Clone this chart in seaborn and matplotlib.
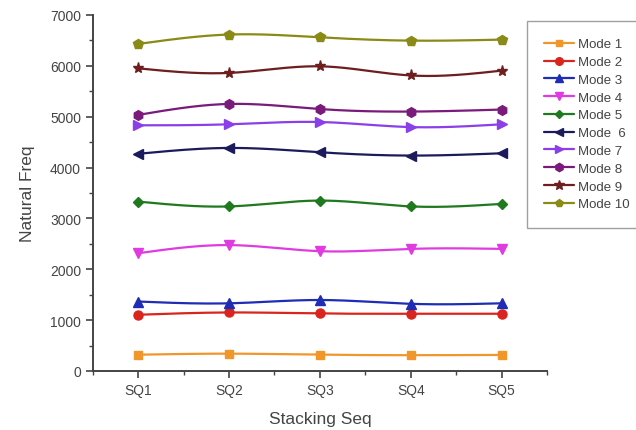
import numpy as np
import pandas as pd
import matplotlib
matplotlib.use("Agg")
import matplotlib.pyplot as plt
from matplotlib.lines import Line2D
from matplotlib.ticker import MultipleLocator
import seaborn as sns

categories = ["SQ1", "SQ2", "SQ3", "SQ4", "SQ5"]
modes = ["Mode 1", "Mode 2", "Mode 3", "Mode 4", "Mode 5",
         "Mode  6", "Mode 7", "Mode 8", "Mode 9", "Mode 10"]
mode1 = [320, 340, 320, 310, 315]
mode2 = [1105, 1150, 1130, 1125, 1125]
mode3 = [1365, 1330, 1395, 1320, 1330]
mode4 = [2315, 2475, 2355, 2400, 2400]
mode5 = [3330, 3235, 3350, 3235, 3285]
mode6 = [4270, 4385, 4300, 4235, 4280]
mode7 = [4830, 4850, 4895, 4795, 4850]
mode8 = [5035, 5250, 5150, 5100, 5140]
mode9 = [5950, 5860, 5990, 5810, 5905]
mode10 = [6430, 6615, 6560, 6495, 6515]
series = [mode1, mode2, mode3, mode4, mode5, mode6, mode7, mode8, mode9, mode10]

colors = ["#F0962A", "#D9251D", "#1F2DB5", "#E03BE0", "#1F7A1F",
          "#1B1B5C", "#8B3FE8", "#7A1A7A", "#6E1E1E", "#8A8A16"]
markers = ["s", "o", "^", "v", "D", "<", ">", "h", "*", "p"]
msizes = [6, 6.5, 7, 7, 5.5, 7, 7, 7, 8, 7]


def natural_spline(x, y, n=200):
    x = np.asarray(x, float)
    y = np.asarray(y, float)
    k = len(x)
    h = np.diff(x)
    A = np.zeros((k, k))
    b = np.zeros(k)
    A[0, 0] = A[-1, -1] = 1
    for i in range(1, k - 1):
        A[i, i - 1] = h[i - 1]
        A[i, i] = 2 * (h[i - 1] + h[i])
        A[i, i + 1] = h[i]
        b[i] = 6 * ((y[i + 1] - y[i]) / h[i] - (y[i] - y[i - 1]) / h[i - 1])
    M = np.linalg.solve(A, b)
    xs = np.linspace(x[0], x[-1], n)
    idx = np.clip(np.searchsorted(x, xs) - 1, 0, k - 2)
    x0, x1 = x[idx], x[idx + 1]
    hh = x1 - x0
    ys = (M[idx] * (x1 - xs) ** 3 / (6 * hh) + M[idx + 1] * (xs - x0) ** 3 / (6 * hh)
          + (y[idx] / hh - M[idx] * hh / 6) * (x1 - xs)
          + (y[idx + 1] / hh - M[idx + 1] * hh / 6) * (xs - x0))
    return xs, ys


sns.set_style("ticks")
plt.rcParams["font.family"] = ["Liberation Sans", "DejaVu Sans"]

fig = plt.figure(figsize=(6.36, 4.31), dpi=100)
ax = fig.add_axes([0.146, 0.137, 0.714, 0.826])

xpos = np.arange(1, len(categories) + 1)
handles = []
for name, vals, c, m, ms in zip(modes, series, colors, markers, msizes):
    xs, ys = natural_spline(xpos, vals)
    sns.lineplot(x=xs, y=ys, color=c, lw=1.6, ax=ax, sort=False)
    df = pd.DataFrame({"x": xpos, "y": vals})
    ax.plot(df["x"], df["y"], ls="none", marker=m, color=c, ms=ms, mec=c)
    handles.append(Line2D([], [], color=c, lw=1.6, marker=m, ms=ms - 1, mec=c))

ax.set_xlim(0.5, 5.5)
ax.set_ylim(0, 7000)
ax.set_xticks(xpos)
ax.set_xticklabels(categories)
ax.xaxis.set_minor_locator(MultipleLocator(0.5))
ax.yaxis.set_major_locator(MultipleLocator(1000))
ax.yaxis.set_minor_locator(MultipleLocator(500))
for s in ["top", "right"]:
    ax.spines[s].set_visible(False)
for s in ["left", "bottom"]:
    ax.spines[s].set_color("#444444")
    ax.spines[s].set_linewidth(1.4)
ax.tick_params(which="major", direction="out", length=5, width=1.2, color="#444444",
               labelsize=10, labelcolor="#444444")
ax.tick_params(which="minor", direction="out", length=3, width=1.0, color="#444444")
ax.set_xlabel("Stacking Seq", fontsize=12.5, color="#444444")
ax.set_ylabel("Natural Freq", fontsize=12.5, color="#444444")
ax.xaxis.set_label_coords(0.5, -0.112)
ax.yaxis.set_label_coords(-0.128, 0.5)

leg = fig.legend(handles, modes, loc="upper left", bbox_to_anchor=(527 / 636, 1 - 22 / 431),
                 borderaxespad=0, frameon=True, fancybox=False, fontsize=9.5,
                 handlelength=2.25, handletextpad=0.3, labelspacing=0.42, borderpad=1.3,
                 labelcolor="#444444")
leg.get_frame().set_edgecolor("#888888")
leg.get_frame().set_linewidth(1.0)

fig.savefig("out.png", dpi=100, facecolor="white")
